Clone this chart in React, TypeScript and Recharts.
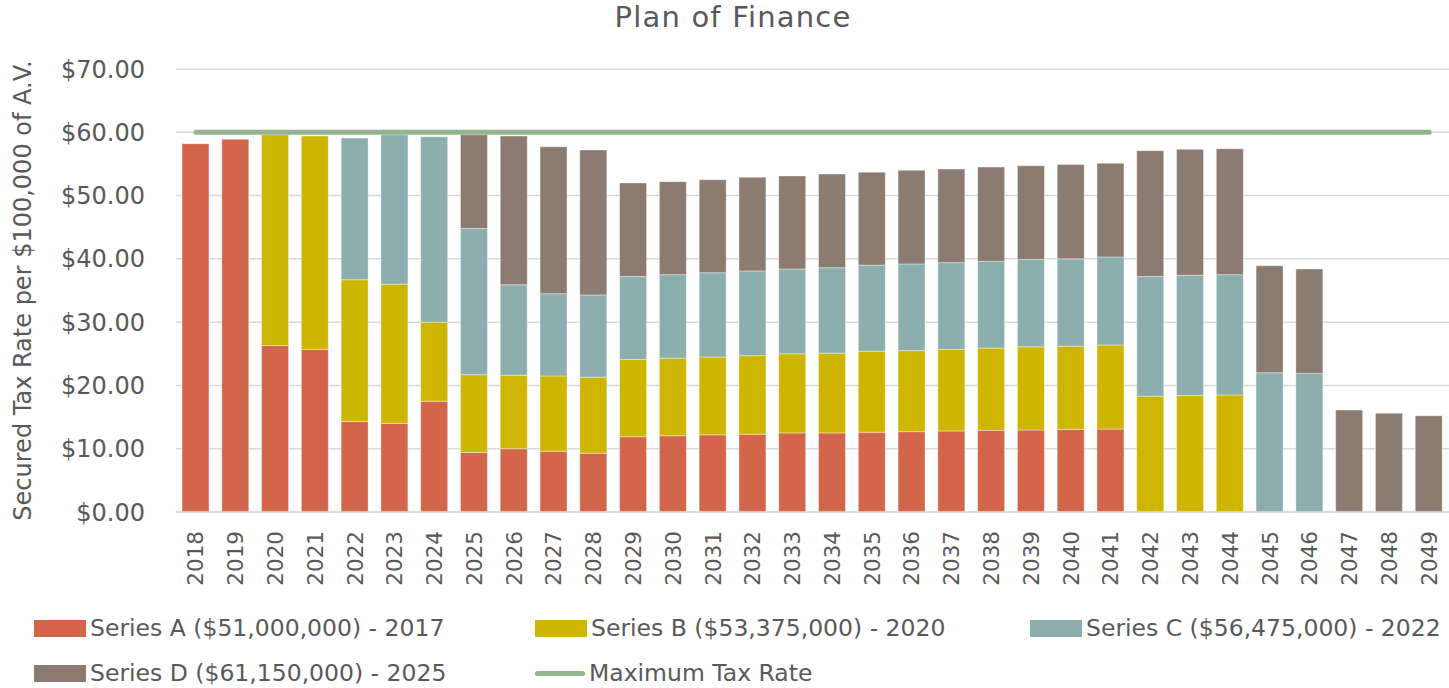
import React from 'react';
import { ComposedChart, Bar, Line, XAxis, YAxis, CartesianGrid } from 'recharts';

const years = ['2018','2019','2020','2021','2022','2023','2024','2025','2026','2027','2028','2029','2030','2031','2032','2033','2034','2035','2036','2037','2038','2039','2040','2041','2042','2043','2044','2045','2046','2047','2048','2049'];
const seriesA = [58.2,58.9,26.3,25.7,14.3,14.0,17.5,9.4,10.0,9.6,9.3,11.9,12.05,12.2,12.3,12.5,12.5,12.6,12.7,12.8,12.9,12.95,13.05,13.1,null,null,null,null,null,null,null,null];
const seriesB = [null,null,33.3,33.7,22.4,22.0,12.5,12.3,11.6,11.9,12.0,12.2,12.25,12.3,12.4,12.5,12.6,12.8,12.8,12.9,13.0,13.15,13.15,13.3,18.3,18.4,18.5,null,null,null,null,null];
const seriesC = [null,null,null,null,22.4,23.6,29.3,23.1,14.3,13.0,13.0,13.1,13.2,13.3,13.4,13.4,13.5,13.6,13.7,13.7,13.7,13.8,13.8,13.9,18.9,19.0,19.0,22.0,21.9,null,null,null];
const seriesD = [null,null,null,null,null,null,null,14.8,23.5,23.2,22.9,14.8,14.7,14.7,14.8,14.7,14.8,14.7,14.8,14.8,14.9,14.8,14.9,14.8,19.9,19.9,19.9,16.9,16.5,16.1,15.6,15.2];
const maxRate = [60,60,60,60,60,60,60,60,60,60,60,60,60,60,60,60,60,60,60,60,60,60,60,60,60,60,60,60,60,60,60,60];
const yTicks = [0,10,20,30,40,50,60,70];

const seriesNames = {
  a: 'Series A ($51,000,000) - 2017',
  b: 'Series B ($53,375,000) - 2020',
  c: 'Series C ($56,475,000) - 2022',
  d: 'Series D ($61,150,000) - 2025',
  m: 'Maximum Tax Rate',
};
const colors = { a: '#d3654a', b: '#cdb500', c: '#8caeae', d: '#8c7b70', m: '#93b48c' };

const data = years.map((y, i) => ({
  year: y,
  a: seriesA[i],
  b: seriesB[i],
  c: seriesC[i],
  d: seriesD[i],
  m: maxRate[i],
}));

const FONT = '"DejaVu Sans", sans-serif';
const TEXT = '#595959';

const XTick = (props: any) => {
  const { x, y, payload } = props;
  return (
    <g transform={`translate(${x},${y})`}>
      <text transform="rotate(-90)" x={-19} y={0} dy="0.35em" textAnchor="end" fill={TEXT} fontSize={21.5} fontFamily={FONT}>
        {payload.value}
      </text>
    </g>
  );
};

const LegendItem = ({ left, top, color, label, line }: any) => (
  <div style={{ position: 'absolute', left, top, height: 30, display: 'flex', alignItems: 'center' }}>
    {line ? (
      <div style={{ width: 50, height: 5, background: color, borderRadius: 3, marginRight: 4 }} />
    ) : (
      <div style={{ width: 52, height: 17, background: color, marginRight: 4 }} />
    )}
    <span style={{ fontFamily: FONT, fontSize: 23.5, color: TEXT, whiteSpace: 'nowrap' }}>{label}</span>
  </div>
);

export default function App() {
  return (
    <div style={{ position: 'absolute', left: 0, top: 0, width: 1449, height: 688, background: '#fff' }}>
      <div style={{ position: 'absolute', left: 0, top: 0, width: 1466, textAlign: 'center', fontFamily: FONT, fontSize: 29, letterSpacing: 1.2, color: TEXT }}>
        Plan of Finance
      </div>
      <ComposedChart width={1449} height={600} data={data} margin={{ top: 69, right: 0, left: 0, bottom: 8 }}>
        <CartesianGrid vertical={false} stroke="#d9d9d9" strokeWidth={1.5} />
        <XAxis dataKey="year" height={80} tick={<XTick />} tickLine={false} tickSize={0} tickMargin={0} axisLine={{ stroke: '#d9d9d9', strokeWidth: 1.5 }} interval={0} />
        <YAxis width={176} domain={[0, 70]} ticks={yTicks} tickFormatter={(v: number) => `$${v.toFixed(2)}`} axisLine={false} tickLine={false} tickSize={0} tickMargin={31} tick={{ fill: TEXT, fontSize: 24, fontFamily: FONT }}
          label={{ value: 'Secured Tax Rate per $100,000 of A.V.', angle: -90, position: 'insideLeft', offset: 22, style: { fill: TEXT, fontSize: 24, fontFamily: FONT, textAnchor: 'middle' } }} />
        <Bar dataKey="a" name={seriesNames.a} stackId="s" fill={colors.a} barSize={27} stroke="#ffffff" strokeOpacity={0.4} isAnimationActive={false} />
        <Bar dataKey="b" name={seriesNames.b} stackId="s" fill={colors.b} barSize={27} stroke="#ffffff" strokeOpacity={0.4} isAnimationActive={false} />
        <Bar dataKey="c" name={seriesNames.c} stackId="s" fill={colors.c} barSize={27} stroke="#ffffff" strokeOpacity={0.4} isAnimationActive={false} />
        <Bar dataKey="d" name={seriesNames.d} stackId="s" fill={colors.d} barSize={27} stroke="#ffffff" strokeOpacity={0.4} isAnimationActive={false} />
        <Line dataKey="m" name={seriesNames.m} stroke={colors.m} strokeWidth={5} strokeLinecap="round" dot={false} activeDot={false} isAnimationActive={false} />
      </ComposedChart>
      <LegendItem left={34} top={613} color={colors.a} label={seriesNames.a} />
      <LegendItem left={535} top={613} color={colors.b} label={seriesNames.b} />
      <LegendItem left={1030} top={613} color={colors.c} label={seriesNames.c} />
      <LegendItem left={34} top={658} color={colors.d} label={seriesNames.d} />
      <LegendItem left={535} top={658} color={colors.m} label={seriesNames.m} line />
    </div>
  );
}
